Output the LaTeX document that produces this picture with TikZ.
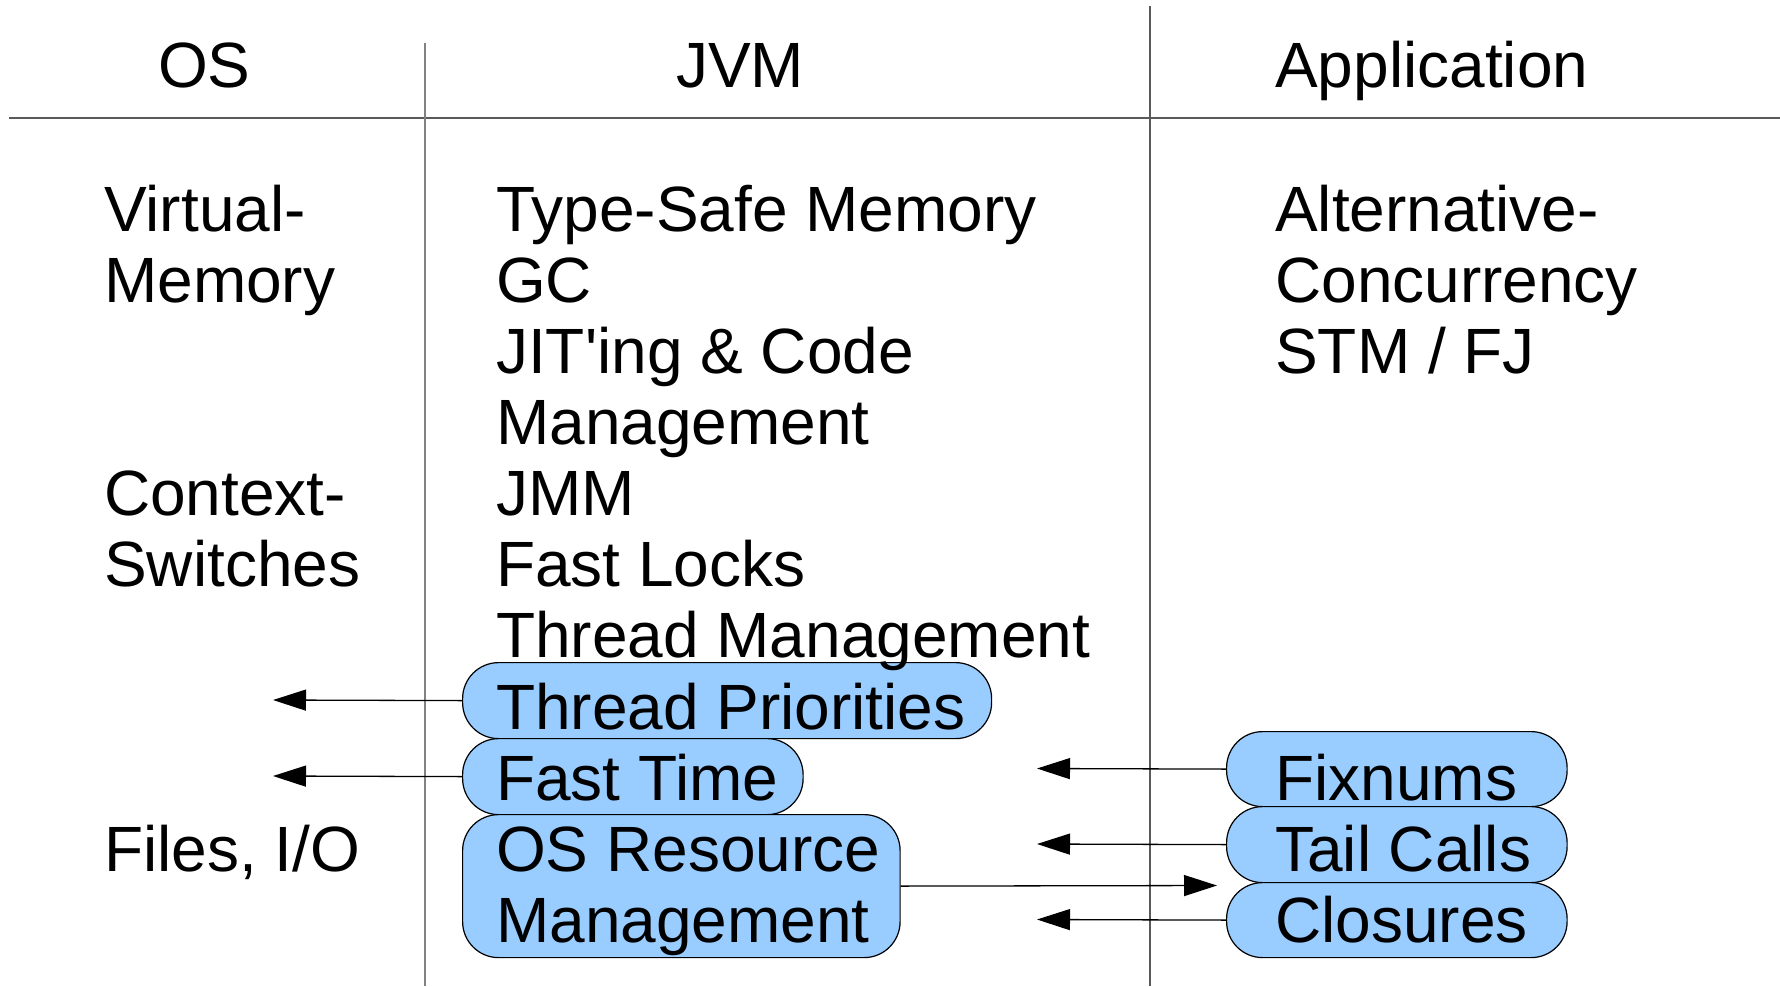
\documentclass[tikz,border=0pt]{standalone}
\usepackage{fontspec}
\setmainfont{Liberation Sans}
\usetikzlibrary{arrows.meta}
\definecolor{boxblue}{RGB}{153,204,255}
\definecolor{rulegray}{RGB}{90,90,90}
\definecolor{lightrule}{RGB}{130,130,130}
\begin{document}
\begin{tikzpicture}[x=1pt,y=-1pt,
  txt/.style={anchor=base west,inner sep=0pt,font=\fontsize{64}{71}\selectfont},
  pill/.style={draw=black,line width=1.2pt,fill=boxblue,rounded corners=36pt,
    inner sep=0pt,anchor=north west},
  conn/.style={line width=1.3pt,-{Triangle[length=33pt,width=21pt]}}]
\useasboundingbox (0,0) rectangle (1780,986);
% rules
\draw[rulegray,line width=2pt] (9,117.5) -- (1780,117.5);
\draw[lightrule,line width=1.4pt] (425,43) -- (425,986);
\draw[rulegray,line width=1.6pt] (1150,6) -- (1150,986);
% headers
\node[txt] (hos) at (158,87) {OS};
\node[txt] (hjvm) at (676,87) {JVM};
\node[txt] (happ) at (1275,87) {Application};
% OS column
\node[txt] (os1) at (104,231) {Virtual-};
\node[txt] (os2) at (104,302) {Memory};
\node[txt] (os3) at (104,515) {Context-};
\node[txt] (os4) at (104,586) {Switches};
\node[txt] (os5) at (104,871) {Files, I/O};
% boxes JVM
\node[pill,minimum width=529pt,minimum height=76pt] (tp) at (462,662) {};
\node[pill,minimum width=340.5pt,minimum height=76pt] (ft) at (462,738) {};
\node[pill,minimum width=437.5pt,minimum height=143pt] (osr) at (462,814) {};
% boxes App
\node[pill,minimum width=340.5pt,minimum height=75pt] (fx) at (1226,731) {};
\node[pill,minimum width=340.5pt,minimum height=76pt] (tc) at (1226,806) {};
\node[pill,minimum width=340.5pt,minimum height=75pt] (cl) at (1226,882) {};
% JVM column text
\node[txt] (j1) at (496,231) {Type-Safe Memory};
\node[txt] (j2) at (496,302) {GC};
\node[txt] (j3) at (496,373) {JIT\textquotesingle ing \& Code};
\node[txt] (j4) at (496,444) {Management};
\node[txt] (j5) at (496,515) {JMM};
\node[txt] (j6) at (496,586) {Fast Locks};
\node[txt] (j7) at (496,657) {Thread Management};
\node[txt] (j8) at (496,729) {Thread Priorities};
\node[txt] (j9) at (496,800) {Fast Time};
\node[txt] (j10) at (496,871) {OS Resource};
\node[txt] (j11) at (496,942) {Management};
% App column text
\node[txt] (a1) at (1275,231) {Alternative-};
\node[txt] (a2) at (1275,302) {Concurrency};
\node[txt] (a3) at (1275,373) {STM / FJ};
\node[txt] (a4) at (1275,800) {Fixnums};
\node[txt] (a5) at (1275,871) {Tail Calls};
\node[txt] (a6) at (1275,942) {Closures};
% arrow end points
\coordinate (tpEnd) at (273,700);
\coordinate (ftEnd) at (273,776);
\coordinate (fxEnd) at (1037,768.5);
\coordinate (tcEnd) at (1037,844);
\coordinate (clEnd) at (1037,919.5);
\coordinate (osrEnd) at (1217,885.5);
% connectors
\draw[conn] (tp.west) -- (tpEnd);
\draw[conn] (ft.west) -- (ftEnd);
\draw[conn] (fx.west) -- (fxEnd);
\draw[conn] (tc.west) -- (tcEnd);
\draw[conn] (cl.west) -- (clEnd);
\draw[conn] (osr.east) -- (osrEnd);
\end{tikzpicture}
\end{document}
